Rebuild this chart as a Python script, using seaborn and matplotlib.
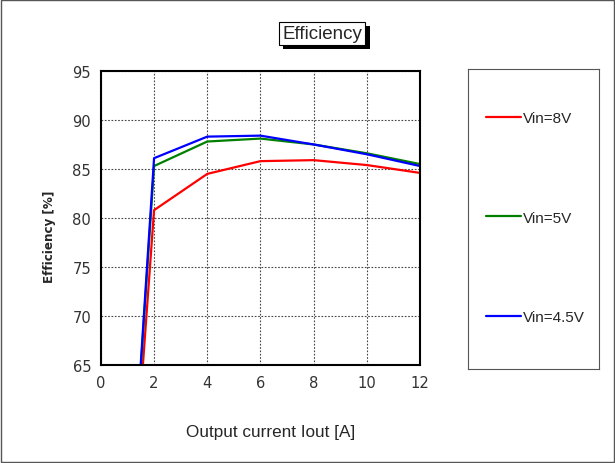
import matplotlib
matplotlib.use('Agg')
import matplotlib.pyplot as plt
import matplotlib.patches as mpatches
import matplotlib.patheffects as pe
from matplotlib import font_manager
import pandas as pd
import seaborn as sns

# Данные
current = [1, 2, 4, 6, 8, 10, 12]
eff_8v = [43.2, 80.8, 84.5, 85.8, 85.9, 85.4, 84.6]
eff_5v = [44.0, 85.3, 87.8, 88.1, 87.5, 86.6, 85.5]
eff_45v = [44.2, 86.1, 88.3, 88.4, 87.5, 86.5, 85.3]
series_labels = ['Vin=8V', 'Vin=5V', 'Vin=4.5V']
series_colors = ['#ff0000', '#008000', '#0000ff']
x_ticks = [0, 2, 4, 6, 8, 10, 12]
y_ticks = [65, 70, 75, 80, 85, 90, 95]

sns.set_style('white')
REGULAR = ['Liberation Sans', 'DejaVu Sans']
plt.rcParams['font.family'] = REGULAR

# Узкий шрифт для подписей осей, если он есть
fonts = font_manager.fontManager.ttflist
has_narrow = any(f.name == 'Liberation Sans Narrow' for f in fonts)
has_dv_cond = any(f.name == 'DejaVu Sans' and f.stretch == 'condensed' for f in fonts)
if has_narrow:
    NARROW = dict(family='Liberation Sans Narrow')
    tick_size, ylab_size = 12, 10
elif has_dv_cond:
    NARROW = dict(family='DejaVu Sans', stretch='condensed')
    tick_size, ylab_size = 11.8, 9.5
else:
    NARROW = dict(family='Liberation Sans')
    tick_size, ylab_size = 10.5, 8.5

df = pd.concat([
    pd.DataFrame({'current': current, 'eff': vals, 'vin': lab})
    for vals, lab in zip([eff_8v, eff_5v, eff_45v], series_labels)
])

fig = plt.figure(figsize=(6.15, 4.64), dpi=100)
ax = fig.add_axes([0.164, 0.211, 0.519, 0.634])
sns.lineplot(data=df, x='current', y='eff', hue='vin', palette=series_colors,
             hue_order=series_labels, linewidth=1.6, ax=ax, legend=False)

ax.set_xlim(0, 12)
ax.set_ylim(65, 95)
ax.set_xticks(x_ticks)
ax.set_yticks(y_ticks)
ax.tick_params(length=0, pad=7)
for lab in ax.get_xticklabels() + ax.get_yticklabels():
    lab.set_fontproperties(font_manager.FontProperties(size=tick_size, **NARROW))
    lab.set_color('#333333')
ax.grid(True, linestyle=(0, (1.5, 1.5)), color='#444444', linewidth=0.8)
for s in ax.spines.values():
    s.set_color('black')
    s.set_linewidth(1.5)
ax.set_xlabel('')
ax.set_ylabel('Efficiency [%]', fontproperties=font_manager.FontProperties(
    size=ylab_size, weight='bold', **NARROW))
ax.yaxis.set_label_coords(-0.14, 0.44)

# Подпись оси X снизу
fig.text(0.44, 0.067, 'Output current Iout [A]', ha='center', va='center',
         fontsize=12.3, family=REGULAR)

# Заголовок в рамке с тенью
title = fig.text(0.524, 0.926, 'Efficiency', ha='center', va='center', fontsize=13.5,
                 family=REGULAR,
                 bbox=dict(boxstyle='square,pad=0.17', fc='white', ec='black', lw=0.8))
title.get_bbox_patch().set_path_effects([
    pe.SimplePatchShadow(offset=(3, -3), shadow_rgbFace='black', alpha=1.0),
    pe.Normal(),
])

# Легенда в отдельной рамке
lax = fig.add_axes([0.761, 0.203, 0.213, 0.646])
lax.set_xticks([])
lax.set_yticks([])
for s in lax.spines.values():
    s.set_color('#555555')
    s.set_linewidth(0.8)
handles = [plt.Line2D([], [], color=c, lw=1.6) for c in series_colors]
lax.legend(handles, series_labels, loc='upper left', bbox_to_anchor=(0.09, 0.88),
           frameon=False, prop={'family': REGULAR, 'size': 11}, handlelength=2.3,
           handletextpad=0.1, labelspacing=5.6, borderaxespad=0)

# Рамка вокруг всего рисунка
fig.patches.append(mpatches.Rectangle((0.002, 0.002), 0.996, 0.996, transform=fig.transFigure,
                                      fill=False, ec='#555555', lw=1.0))

fig.savefig('out.png', dpi=100)
